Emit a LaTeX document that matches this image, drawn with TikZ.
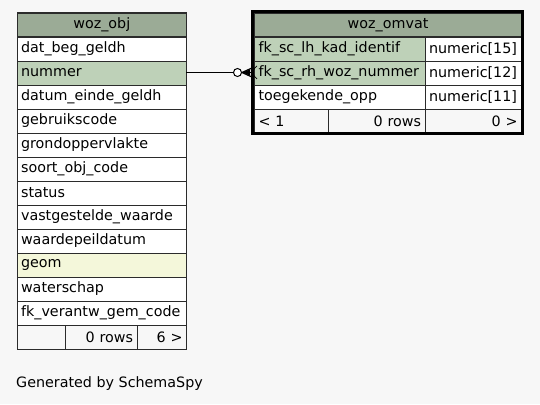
\documentclass[tikz,border=0pt]{standalone}
\usepackage{fontspec}
\setmainfont{DejaVu Sans}
\definecolor{bgc}{HTML}{F7F7F7}
\definecolor{hdr}{HTML}{9BAB96}
\definecolor{keyc}{HTML}{BED1B8}
\definecolor{geoc}{HTML}{F4F7DA}
\definecolor{brd}{HTML}{2B2B2B}
\tikzset{
  cellbox/.style={draw=brd, line width=1.1pt, minimum height=24pt, inner ysep=0pt, anchor=north west, font=\fontsize{14.3}{16}\selectfont},
  lcell/.style={cellbox, text width=#1, inner xsep=4pt, align=left},
  rcell/.style={cellbox, text width=#1, inner xsep=4pt, align=right},
  ccell/.style={cellbox, text width=#1, inner xsep=4pt, align=center},
}
\begin{document}
\begin{tikzpicture}[x=1pt,y=-1pt]
\fill[bgc] (0,0) rectangle (540,404);
\useasboundingbox (0,0) rectangle (540,404);
% left table
\node[ccell=161.5pt, fill=hdr] (lh) at (16.5,12.5) {woz\_obj};
\node[lcell=161.5pt, fill=white] (l1) at (16.5,36.5) {dat\_beg\_geldh};
\node[lcell=161.5pt, fill=keyc] (l2) at (16.5,60.5) {nummer};
\node[lcell=161.5pt, fill=white] (l3) at (16.5,84.5) {datum\_einde\_geldh};
\node[lcell=161.5pt, fill=white] (l4) at (16.5,108.5) {gebruikscode};
\node[lcell=161.5pt, fill=white] (l5) at (16.5,132.5) {grondoppervlakte};
\node[lcell=161.5pt, fill=white] (l6) at (16.5,156.5) {soort\_obj\_code};
\node[lcell=161.5pt, fill=white] (l7) at (16.5,180.5) {status};
\node[lcell=161.5pt, fill=white] (l8) at (16.5,204.5) {vastgestelde\_waarde};
\node[lcell=161.5pt, fill=white] (l9) at (16.5,228.5) {waardepeildatum};
\node[lcell=161.5pt, fill=geoc] (l10) at (16.5,252.5) {geom};
\node[lcell=161.5pt, fill=white] (l11) at (16.5,276.5) {waterschap};
\node[lcell=161.5pt, fill=white] (l12) at (16.5,300.5) {fk\_verantw\_gem\_code};
\node[lcell=40pt, fill=bgc] (lf1) at (16.5,324.5) {};
\node[rcell=64pt, fill=bgc] (lf2) at (64.5,324.5) {0 rows};
\node[rcell=41.5pt, fill=bgc] (lf3) at (136.5,324.5) {6 >};
% right table
\node[ccell=259pt, fill=hdr] (rh) at (254,12.5) {woz\_omvat};
\node[lcell=162.5pt, fill=keyc] (r1a) at (254,36.5) {fk\_sc\_lh\_kad\_identif};
\node[lcell=88.5pt, fill=white] (r1b) at (424.5,36.5) {numeric[15]};
\node[lcell=162.5pt, fill=keyc] (r2a) at (254,60.5) {fk\_sc\_rh\_woz\_nummer};
\node[lcell=88.5pt, fill=white] (r2b) at (424.5,60.5) {numeric[12]};
\node[lcell=162.5pt, fill=white] (r3a) at (254,84.5) {toegekende\_opp};
\node[lcell=88.5pt, fill=white] (r3b) at (424.5,84.5) {numeric[11]};
\node[lcell=65.5pt, fill=bgc] (rf1) at (254,108.5) {< 1};
\node[rcell=89pt, fill=bgc] (rf2) at (327.5,108.5) {0 rows};
\node[rcell=88.5pt, fill=bgc] (rf3) at (424.5,108.5) {0 >};
\draw[black, line width=3pt] (252.5,12) rectangle (522,133.5);
% connector
\coordinate (cc) at (237.5,72.5);
\coordinate (src) at (186,72.5);
\coordinate (apex) at (242,72.5);
\coordinate (tgt) at (253,72.5);
\draw[black, line width=1pt] (src) -- (233.5,72.5);
\draw[black, line width=1pt, fill=white] (cc) circle (4pt);
\draw[black, line width=1.2pt] (apex) -- (tgt);
\draw[black, line width=1.2pt] (apex) -- (253,67.5);
\draw[black, line width=1.2pt] (apex) -- (253,77.5);
\fill[black] (apex) -- (250,69.5) -- (250,75.5) -- cycle;
\draw[black, line width=0.7pt] (257,66) arc[start angle=120, end angle=240, radius=7.5pt];
% footer
\node[anchor=west, inner sep=0pt, font=\fontsize{14.3}{16}\selectfont] (gen) at (16,384) {Generated by SchemaSpy};
\end{tikzpicture}
\end{document}
